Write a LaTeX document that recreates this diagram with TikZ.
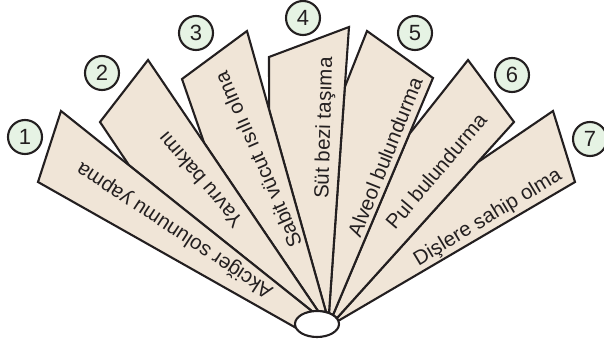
\documentclass[tikz,border=0pt]{standalone}
\usepackage{fontspec}
\setmainfont{Liberation Sans}
\usepackage{tikz}
\usetikzlibrary{
  calc,
  shapes.geometric
}
\definecolor{bladeTan}{HTML}{F0E5D7}
\definecolor{numGreen}{HTML}{E6F3E4}
\definecolor{inkBlack}{HTML}{231F20}
\tikzstyle{blade}=[draw=inkBlack, fill=bladeTan, line width=2.1pt]
\tikzstyle{bladetext}=[text=inkBlack, font=\fontsize{20.5}{20.5}\selectfont, inner sep=0pt]
\tikzstyle{num}=[circle, draw=inkBlack, fill=numGreen, line width=2.1pt, minimum size=34pt, inner sep=0pt, text=inkBlack, font=\fontsize{22}{22}\selectfont]

\begin{document}
\begin{tikzpicture}[x=1pt, y=-1pt]
      \useasboundingbox (0,0) rectangle (604,345);

      % outer corners of the blades
      \coordinate (P1) at (38,182);  \coordinate (Q1) at (61,111);
      \coordinate (P2) at (100,122); \coordinate (Q2) at (148,60);
      \coordinate (P3) at (182,79);  \coordinate (Q3) at (247,31);
      \coordinate (P4) at (269,57);  \coordinate (Q4) at (349,27);
      \coordinate (P5) at (367,31);  \coordinate (Q5) at (433,78);
      \coordinate (P6) at (468,60);  \coordinate (Q6) at (514,122);
      \coordinate (P7) at (553,111); \coordinate (Q7) at (575,182);

      % inner ends (under the ellipse)
      \coordinate (S1) at (298,329);
      \coordinate (R1) at (313,312);
      \coordinate (R2) at (318,311);
      \coordinate (R3) at (326,312);
      \coordinate (R4) at (329,313);
      \coordinate (R5) at (333,315);
      \coordinate (R6) at (337,318);
      \coordinate (R7) at (338,321);

      % where a blade goes under its neighbour
      \coordinate (M2) at ($(Q1)!0.27!(R1)$);
      \coordinate (M3) at ($(Q2)!0.33!(R2)$);
      \coordinate (M4) at ($(Q3)!0.28!(R3)$);
      \coordinate (M5) at ($(Q4)!0.21!(R4)$);
      \coordinate (M6) at ($(Q5)!0.236!(R5)$);
      \coordinate (M7) at ($(Q6)!0.206!(R6)$);

      % blades, right to left
      \draw[blade] (P7) -- (Q7) -- (R7) -- (R6) -- (M7) -- cycle;
      \draw[blade] (P6) -- (Q6) -- (R6) -- (R5) -- (M6) -- cycle;
      \draw[blade] (P5) -- (Q5) -- (R5) -- (R4) -- (M5) -- cycle;
      \draw[blade] (P4) -- (Q4) -- (R4) -- (R3) -- (M4) -- cycle;
      \draw[blade] (P3) -- (Q3) -- (R3) -- (R2) -- (M3) -- cycle;
      \draw[blade] (P2) -- (Q2) -- (R2) -- (R1) -- (M2) -- cycle;
      \draw[blade] (P1) -- (Q1) -- (R1) -- (S1) -- cycle;

      % hub
      \node (hub) at (317,324) [ellipse, draw=inkBlack, fill=white, line width=2.1pt,
        minimum width=44pt, minimum height=26pt, inner sep=0pt]{};

      % texts on the blades
      \node (t1) at (175,230) [bladetext, rotate=146.7]{Akciğer solunumu yapma};
      \node (t2) at (200,180) [bladetext, rotate=130.4]{Yavru bakımı};
      \node (t3) at (258,160) [bladetext, rotate=113.7]{Sabit vücut ısılı olma};
      \node (t4) at (325,128) [bladetext, rotate=88.4]{Süt bezi taşıma};
      \node (t5) at (385,157) [bladetext, rotate=68.3]{Alveol bulundurma};
      \node (t6) at (436,171) [bladetext, rotate=49.7]{Pul bulundurma};
      \node (t7) at (488,218) [bladetext, rotate=31.1]{Dişlere sahip olma};

      % numbers
      \node (n1) at (25,137) [num]{1};
      \node (n2) at (102,73) [num]{2};
      \node (n3) at (196,33) [num]{3};
      \node (n4) at (303,18) [num]{4};
      \node (n5) at (415,33) [num]{5};
      \node (n6) at (512,75) [num]{6};
      \node (n7) at (590,139) [num]{7};
    \end{tikzpicture}
\end{document}
